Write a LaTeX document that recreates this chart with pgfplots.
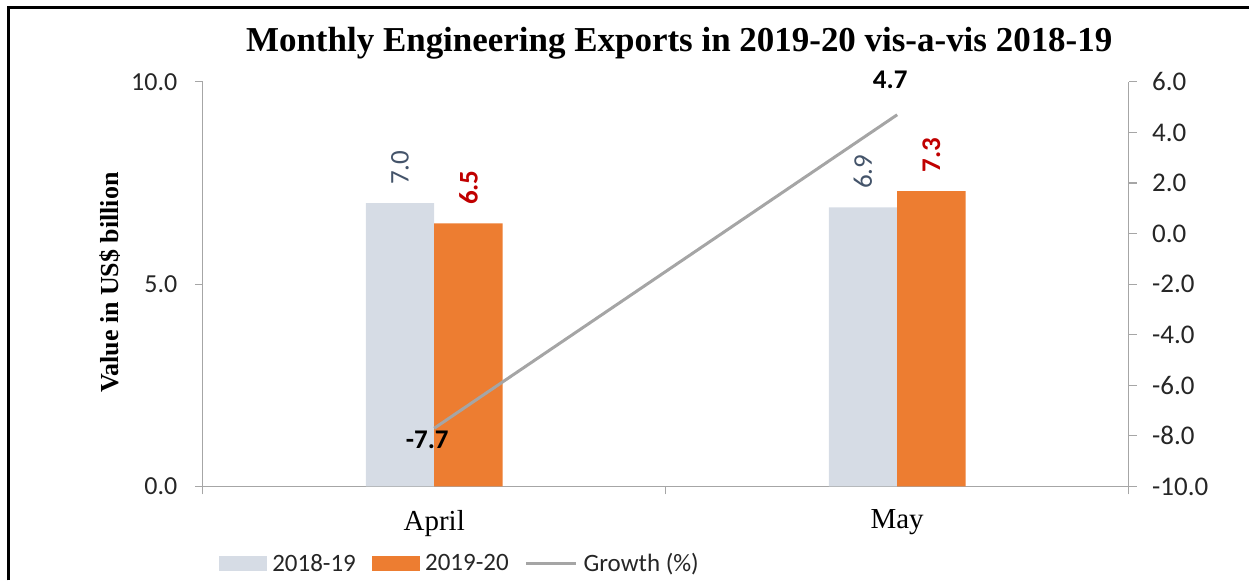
\documentclass[border=0pt]{standalone}
\usepackage{pgfplots}
\pgfplotsset{compat=1.18}
\usepackage{fontspec}
\setmainfont{Liberation Serif}
\newfontfamily\calibri{Carlito}
\definecolor{barGrey}{HTML}{D6DCE5}
\definecolor{barOrange}{HTML}{ED7D31}
\definecolor{lineGrey}{HTML}{A5A5A5}
\definecolor{labBlue}{HTML}{44546A}
\definecolor{labRed}{HTML}{C00000}
\definecolor{axGrey}{HTML}{A6A6A6}
\definecolor{tickText}{HTML}{262626}
\begin{document}
\begin{tikzpicture}[x=1pt,y=1pt]
\path (0,0) rectangle (1250,581);
\draw[line width=3pt] (8.5,0) -- (8.5,573.5) -- (1250,573.5);
\node[font=\bfseries\fontsize{35}{40}\selectfont, inner sep=0pt] at (680,538) {Monthly Engineering Exports in 2019-20 vis-a-vis 2018-19};
\node[font=\bfseries\fontsize{26}{30}\selectfont, rotate=90, inner sep=0pt] at (110,298) {Value in US\$ billion};
\begin{axis}[
  at={(203pt,94pt)}, anchor=south west, scale only axis,
  width=927pt, height=405pt,
  xmin=-0.5, xmax=1.5, ymin=0, ymax=10,
  axis x line*=bottom, axis y line*=left,
  axis line style={axGrey, line width=1.2pt},
  tick style={axGrey, line width=1.2pt},
  major tick length=8pt, tick align=outside,
  xtick={-0.5,0.5,1.5}, xticklabels={},
  extra x ticks={0,1}, extra x tick labels={April,May},
  extra x tick style={major tick length=0pt},
  xticklabel style={font=\fontsize{29}{33}\selectfont, text=black, yshift=-20pt},
  ytick={0,5,10},
  yticklabel={\pgfmathprintnumber[fixed,fixed zerofill,precision=1,assume math mode=true]{\tick}},
  yticklabel style={font=\calibri\fontsize{26}{30}\selectfont, text=tickText, xshift=-14pt},
  ybar=0pt, bar width=68.5pt,
  nodes near coords={\pgfmathprintnumber[fixed,fixed zerofill,precision=1,assume math mode=true]{\pgfplotspointmeta}},
  every node near coord/.append style={yshift=15pt, rotate=90, anchor=west, font=\calibri\fontsize{27}{30}\selectfont},
  clip=false,
]
\addplot[fill=barGrey, draw=none, every node near coord/.append style={text=labBlue}] coordinates {(0,7.0) (1,6.9)};
\addplot[fill=barOrange, draw=none, every node near coord/.append style={text=labRed, font=\calibri\bfseries\fontsize{27}{30}\selectfont}] coordinates {(0,6.5) (1,7.3)};
\end{axis}
\begin{axis}[
  at={(203pt,94pt)}, anchor=south west, scale only axis,
  width=927pt, height=405pt,
  xmin=-0.5, xmax=1.5, ymin=-10, ymax=6,
  axis y line*=right, axis x line=none,
  axis line style={axGrey, line width=1.2pt},
  tick style={axGrey, line width=1.2pt},
  major tick length=8pt, tick align=outside,
  ytick={-10,-8,...,6},
  yticklabel={\pgfmathprintnumber[fixed,fixed zerofill,precision=1,assume math mode=true]{\tick}},
  yticklabel style={font=\calibri\fontsize{27}{30}\selectfont, text=tickText, xshift=12pt},
  clip=false,
  legend columns=3,
  legend style={at={(axis description cs:0,0)}, anchor=west, xshift=13pt, yshift=-77pt, draw=none, fill=none,
    font=\calibri\fontsize{25}{30}\selectfont, text=tickText,
    /tikz/every odd column/.append style={column sep=4pt},
    /tikz/every even column/.append style={column sep=14pt}},
]
\addlegendimage{legend image code/.code={\fill[barGrey] (0pt,-7pt) rectangle (47pt,7pt);}}
\addlegendentry{2018-19}
\addlegendimage{legend image code/.code={\fill[barOrange] (0pt,-7pt) rectangle (47pt,7pt);}}
\addlegendentry{2019-20}
\addplot[lineGrey, line width=3pt, legend image code/.code={\draw[lineGrey, line width=3pt] (0pt,0pt) -- (50pt,0pt);}] coordinates {(0,-7.7) (1,4.7)};
\addlegendentry{Growth (\%)}
\addplot[draw=none, mark=none, nodes near coords={\pgfmathprintnumber[fixed,fixed zerofill,precision=1,assume math mode=true]{\pgfplotspointmeta}},
  every node near coord/.append style={anchor=center, xshift=-7pt, yshift=-12pt, font=\calibri\bfseries\fontsize{27}{30}\selectfont, text=black}, forget plot] coordinates {(0,-7.7)};
\addplot[draw=none, mark=none, nodes near coords={\pgfmathprintnumber[fixed,fixed zerofill,precision=1,assume math mode=true]{\pgfplotspointmeta}},
  every node near coord/.append style={anchor=center, xshift=-7pt, yshift=35pt, font=\calibri\bfseries\fontsize{27}{30}\selectfont, text=black}, forget plot] coordinates {(1,4.7)};
\end{axis}
\end{tikzpicture}
\end{document}
